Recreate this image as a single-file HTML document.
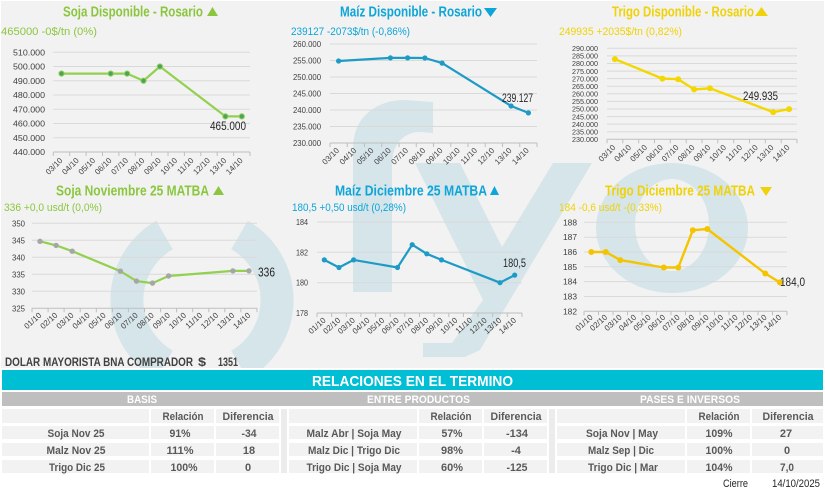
<!DOCTYPE html>
<html><head><meta charset="utf-8"><style>
html,body{margin:0;padding:0;background:#fff;}
svg{display:block;}
text{font-family:"Liberation Sans Narrow","Liberation Sans",sans-serif;}
</style></head><body>
<svg width="825" height="493" viewBox="0 0 825 493" xmlns="http://www.w3.org/2000/svg">
<defs><clipPath id="bgclip"><rect x="1" y="1" width="823" height="367"/></clipPath></defs>
<rect x="0" y="0" width="825" height="493" fill="#ffffff"/>
<rect x="1" y="1" width="823" height="367" fill="#f2f2f2"/>
<!-- watermark -->
<g clip-path="url(#bgclip)" fill="#d6e5ea">
<path d="M164.5,235 A75,75 0 0 0 164.5,365" fill="none" stroke="#d6e5ea" stroke-width="33"/>
<path d="M239.5,235 A75,75 0 0 1 239.5,365" fill="none" stroke="#d6e5ea" stroke-width="33"/>
<path d="M353,292 L353,148 C353,118 375,100 405,100 L433,102 L433,133 L420,132 C403,132 392,145 392,165 L392,292 Z"/>
<path d="M415,163 L460,163 L502,247 L553,163 L592,163 L480,350 L465,357 L423,357 L423,343 L452,343 L483,300 Z"/>
<path fill-rule="evenodd" d="M596,228 A76,65 0 1 0 748,228 A76,65 0 1 0 596,228 Z M635,225 A37,46 0 1 1 709,225 A37,46 0 1 1 635,225 Z"/>
</g>

<!-- ============ CHART 1 ============ -->
<g>
<text x="63" y="16.5" font-size="15" font-weight="bold" fill="#8cc63f" textLength="140" lengthAdjust="spacingAndGlyphs">Soja Disponible - Rosario</text>
<polygon points="207,16 218,16 212.5,7" fill="#8cc63f"/>
<text x="1" y="35" font-size="11" fill="#8cc63f" textLength="96" lengthAdjust="spacingAndGlyphs">465000 -0$/tn (0%)</text>
<g stroke="#d9d9d9" stroke-width="1">
<line x1="53.3" y1="52.25" x2="250" y2="52.25"/><line x1="53.3" y1="66.5" x2="250" y2="66.5"/><line x1="53.3" y1="80.75" x2="250" y2="80.75"/><line x1="53.3" y1="95" x2="250" y2="95"/><line x1="53.3" y1="109.25" x2="250" y2="109.25"/><line x1="53.3" y1="123.5" x2="250" y2="123.5"/><line x1="53.3" y1="137.75" x2="250" y2="137.75"/>
</g>
<line x1="53.3" y1="152" x2="250" y2="152" stroke="#bfbfbf"/>
<g stroke="#bfbfbf"><line x1="53.3" y1="152" x2="53.3" y2="156"/><line x1="69.7" y1="152" x2="69.7" y2="156"/><line x1="86.1" y1="152" x2="86.1" y2="156"/><line x1="102.5" y1="152" x2="102.5" y2="156"/><line x1="118.9" y1="152" x2="118.9" y2="156"/><line x1="135.3" y1="152" x2="135.3" y2="156"/><line x1="151.6" y1="152" x2="151.6" y2="156"/><line x1="168" y1="152" x2="168" y2="156"/><line x1="184.4" y1="152" x2="184.4" y2="156"/><line x1="200.8" y1="152" x2="200.8" y2="156"/><line x1="217.2" y1="152" x2="217.2" y2="156"/><line x1="233.6" y1="152" x2="233.6" y2="156"/><line x1="250" y1="152" x2="250" y2="156"/></g>
<g font-size="8" fill="#404040" text-anchor="end">
<text x="45" y="55.3" textLength="32" lengthAdjust="spacingAndGlyphs">510.000</text><text x="45" y="69.5" textLength="32" lengthAdjust="spacingAndGlyphs">500.000</text><text x="45" y="83.8" textLength="32" lengthAdjust="spacingAndGlyphs">490.000</text><text x="45" y="98" textLength="32" lengthAdjust="spacingAndGlyphs">480.000</text><text x="45" y="112.3" textLength="32" lengthAdjust="spacingAndGlyphs">470.000</text><text x="45" y="126.5" textLength="32" lengthAdjust="spacingAndGlyphs">460.000</text><text x="45" y="140.8" textLength="32" lengthAdjust="spacingAndGlyphs">450.000</text><text x="45" y="155" textLength="32" lengthAdjust="spacingAndGlyphs">440.000</text>
</g>
<g font-size="8" fill="#404040" text-anchor="end">
<text transform="translate(63,161) rotate(-45)">03/10</text><text transform="translate(79.4,161) rotate(-45)">04/10</text><text transform="translate(95.8,161) rotate(-45)">05/10</text><text transform="translate(112.2,161) rotate(-45)">06/10</text><text transform="translate(128.6,161) rotate(-45)">07/10</text><text transform="translate(145,161) rotate(-45)">08/10</text><text transform="translate(161.4,161) rotate(-45)">09/10</text><text transform="translate(177.8,161) rotate(-45)">10/10</text><text transform="translate(194.1,161) rotate(-45)">11/10</text><text transform="translate(210.5,161) rotate(-45)">12/10</text><text transform="translate(226.9,161) rotate(-45)">13/10</text><text transform="translate(243.3,161) rotate(-45)">14/10</text>
</g>
<polyline points="61.5,73.6 110.7,73.6 127.1,73.6 143.5,80.75 159.9,66.5 225.4,116.4 241.8,116.4" fill="none" stroke="#92d050" stroke-width="2.2" stroke-linejoin="round"/>
<g fill="#4aa35e" stroke="#92d050" stroke-width="1"><circle cx="61.5" cy="73.6" r="2.6"/><circle cx="110.7" cy="73.6" r="2.6"/><circle cx="127.1" cy="73.6" r="2.6"/><circle cx="143.5" cy="80.75" r="2.6"/><circle cx="159.9" cy="66.5" r="2.6"/><circle cx="225.4" cy="116.4" r="2.6"/><circle cx="241.8" cy="116.4" r="2.6"/></g>
<text x="210" y="130" font-size="11.5" fill="#262626" textLength="36" lengthAdjust="spacingAndGlyphs">465.000</text>
</g>

<!-- ============ CHART 2 ============ -->
<g>
<text x="340" y="16.5" font-size="15" font-weight="bold" fill="#0ea5d8" textLength="142" lengthAdjust="spacingAndGlyphs">Maíz Disponible - Rosario</text>
<polygon points="484,8 497,8 490.5,17" fill="#0ea5d8"/>
<text x="291" y="35" font-size="11" fill="#0ea5d8" textLength="119" lengthAdjust="spacingAndGlyphs">239127 -2073$/tn (-0,86%)</text>
<g stroke="#d9d9d9" stroke-width="1">
<line x1="330" y1="44" x2="537" y2="44"/><line x1="330" y1="60.5" x2="537" y2="60.5"/><line x1="330" y1="77" x2="537" y2="77"/><line x1="330" y1="93.5" x2="537" y2="93.5"/><line x1="330" y1="110" x2="537" y2="110"/><line x1="330" y1="126.5" x2="537" y2="126.5"/>
</g>
<line x1="330" y1="143" x2="537" y2="143" stroke="#bfbfbf"/>
<g stroke="#bfbfbf"><line x1="330" y1="143" x2="330" y2="147"/><line x1="347.25" y1="143" x2="347.25" y2="147"/><line x1="364.5" y1="143" x2="364.5" y2="147"/><line x1="381.75" y1="143" x2="381.75" y2="147"/><line x1="399" y1="143" x2="399" y2="147"/><line x1="416.25" y1="143" x2="416.25" y2="147"/><line x1="433.5" y1="143" x2="433.5" y2="147"/><line x1="450.75" y1="143" x2="450.75" y2="147"/><line x1="468" y1="143" x2="468" y2="147"/><line x1="485.25" y1="143" x2="485.25" y2="147"/><line x1="502.5" y1="143" x2="502.5" y2="147"/><line x1="519.75" y1="143" x2="519.75" y2="147"/><line x1="537" y1="143" x2="537" y2="147"/></g>
<g font-size="8" fill="#404040" text-anchor="end">
<text x="321" y="47" textLength="28" lengthAdjust="spacingAndGlyphs">260.000</text><text x="321" y="63.5" textLength="28" lengthAdjust="spacingAndGlyphs">255.000</text><text x="321" y="80" textLength="28" lengthAdjust="spacingAndGlyphs">250.000</text><text x="321" y="96.5" textLength="28" lengthAdjust="spacingAndGlyphs">245.000</text><text x="321" y="113" textLength="28" lengthAdjust="spacingAndGlyphs">240.000</text><text x="321" y="129.5" textLength="28" lengthAdjust="spacingAndGlyphs">235.000</text><text x="321" y="146" textLength="28" lengthAdjust="spacingAndGlyphs">230.000</text>
</g>
<g font-size="8" fill="#404040" text-anchor="end">
<text transform="translate(339.6,151) rotate(-45)">03/10</text><text transform="translate(356.9,151) rotate(-45)">04/10</text><text transform="translate(374.1,151) rotate(-45)">05/10</text><text transform="translate(391.4,151) rotate(-45)">06/10</text><text transform="translate(408.6,151) rotate(-45)">07/10</text><text transform="translate(425.9,151) rotate(-45)">08/10</text><text transform="translate(443.1,151) rotate(-45)">09/10</text><text transform="translate(460.4,151) rotate(-45)">10/10</text><text transform="translate(477.6,151) rotate(-45)">11/10</text><text transform="translate(494.9,151) rotate(-45)">12/10</text><text transform="translate(512.1,151) rotate(-45)">13/10</text><text transform="translate(529.4,151) rotate(-45)">14/10</text>
</g>
<polyline points="338.6,61 390.4,57.9 407.6,57.9 424.9,58 442.1,63.1 511.1,106 528.4,112.9" fill="none" stroke="#1d9bc6" stroke-width="2.2" stroke-linejoin="round"/>
<g fill="#1d9bc6"><circle cx="338.6" cy="61" r="2.6"/><circle cx="390.4" cy="57.9" r="2.6"/><circle cx="407.6" cy="57.9" r="2.6"/><circle cx="424.9" cy="58" r="2.6"/><circle cx="442.1" cy="63.1" r="2.6"/><circle cx="511.1" cy="106" r="2.6"/><circle cx="528.4" cy="112.9" r="2.6"/></g>
<text x="502" y="102" font-size="11.5" fill="#262626" textLength="31" lengthAdjust="spacingAndGlyphs">239.127</text>
</g>

<!-- ============ CHART 3 ============ -->
<g>
<text x="612" y="16.5" font-size="15" font-weight="bold" fill="#efd20a" textLength="142" lengthAdjust="spacingAndGlyphs">Trigo Disponible - Rosario</text>
<polygon points="755,16 768,16 761.5,7" fill="#efd20a"/>
<text x="559" y="35" font-size="11" fill="#efd20a" textLength="123" lengthAdjust="spacingAndGlyphs">249935 +2035$/tn (0,82%)</text>
<g stroke="#d9d9d9" stroke-width="1">
<line x1="607" y1="48.3" x2="797" y2="48.3"/><line x1="607" y1="55.9" x2="797" y2="55.9"/><line x1="607" y1="63.5" x2="797" y2="63.5"/><line x1="607" y1="71.1" x2="797" y2="71.1"/><line x1="607" y1="78.6" x2="797" y2="78.6"/><line x1="607" y1="86.2" x2="797" y2="86.2"/><line x1="607" y1="93.8" x2="797" y2="93.8"/><line x1="607" y1="101.4" x2="797" y2="101.4"/><line x1="607" y1="109" x2="797" y2="109"/><line x1="607" y1="116.6" x2="797" y2="116.6"/><line x1="607" y1="124.1" x2="797" y2="124.1"/><line x1="607" y1="131.7" x2="797" y2="131.7"/>
</g>
<line x1="607" y1="139.3" x2="797" y2="139.3" stroke="#bfbfbf"/>
<g stroke="#bfbfbf"><line x1="607" y1="139.3" x2="607" y2="143.3"/><line x1="622.8" y1="139.3" x2="622.8" y2="143.3"/><line x1="638.7" y1="139.3" x2="638.7" y2="143.3"/><line x1="654.5" y1="139.3" x2="654.5" y2="143.3"/><line x1="670.3" y1="139.3" x2="670.3" y2="143.3"/><line x1="686.2" y1="139.3" x2="686.2" y2="143.3"/><line x1="702" y1="139.3" x2="702" y2="143.3"/><line x1="717.8" y1="139.3" x2="717.8" y2="143.3"/><line x1="733.7" y1="139.3" x2="733.7" y2="143.3"/><line x1="749.5" y1="139.3" x2="749.5" y2="143.3"/><line x1="765.3" y1="139.3" x2="765.3" y2="143.3"/><line x1="781.2" y1="139.3" x2="781.2" y2="143.3"/><line x1="797" y1="139.3" x2="797" y2="143.3"/></g>
<g font-size="7.5" fill="#404040" text-anchor="end">
<text x="598" y="51" textLength="26" lengthAdjust="spacingAndGlyphs">290.000</text><text x="598" y="58.6" textLength="26" lengthAdjust="spacingAndGlyphs">285.000</text><text x="598" y="66.2" textLength="26" lengthAdjust="spacingAndGlyphs">280.000</text><text x="598" y="73.8" textLength="26" lengthAdjust="spacingAndGlyphs">275.000</text><text x="598" y="81.3" textLength="26" lengthAdjust="spacingAndGlyphs">270.000</text><text x="598" y="88.9" textLength="26" lengthAdjust="spacingAndGlyphs">265.000</text><text x="598" y="96.5" textLength="26" lengthAdjust="spacingAndGlyphs">260.000</text><text x="598" y="104.1" textLength="26" lengthAdjust="spacingAndGlyphs">255.000</text><text x="598" y="111.7" textLength="26" lengthAdjust="spacingAndGlyphs">250.000</text><text x="598" y="119.3" textLength="26" lengthAdjust="spacingAndGlyphs">245.000</text><text x="598" y="126.8" textLength="26" lengthAdjust="spacingAndGlyphs">240.000</text><text x="598" y="134.4" textLength="26" lengthAdjust="spacingAndGlyphs">235.000</text><text x="598" y="142" textLength="26" lengthAdjust="spacingAndGlyphs">230.000</text>
</g>
<g font-size="8" fill="#404040" text-anchor="end">
<text transform="translate(615.9,148) rotate(-45)">03/10</text><text transform="translate(631.7,148) rotate(-45)">04/10</text><text transform="translate(647.6,148) rotate(-45)">05/10</text><text transform="translate(663.4,148) rotate(-45)">06/10</text><text transform="translate(679.2,148) rotate(-45)">07/10</text><text transform="translate(695.1,148) rotate(-45)">08/10</text><text transform="translate(710.9,148) rotate(-45)">09/10</text><text transform="translate(726.7,148) rotate(-45)">10/10</text><text transform="translate(742.6,148) rotate(-45)">11/10</text><text transform="translate(758.4,148) rotate(-45)">12/10</text><text transform="translate(774.2,148) rotate(-45)">13/10</text><text transform="translate(790.1,148) rotate(-45)">14/10</text>
</g>
<polyline points="614.9,59.1 662.4,78.6 678.2,79.2 694.1,89.4 709.9,88.3 773.2,112.1 789.1,109.1" fill="none" stroke="#f3d700" stroke-width="2.4" stroke-linejoin="round"/>
<g fill="#f3d700"><circle cx="614.9" cy="59.1" r="3"/><circle cx="662.4" cy="78.6" r="3"/><circle cx="678.2" cy="79.2" r="3"/><circle cx="694.1" cy="89.4" r="3"/><circle cx="709.9" cy="88.3" r="3"/><circle cx="773.2" cy="112.1" r="3"/><circle cx="789.1" cy="109.1" r="3"/></g>
<text x="743" y="100" font-size="11.5" fill="#262626" textLength="35" lengthAdjust="spacingAndGlyphs">249.935</text>
</g>

<!-- ============ CHART 4 ============ -->
<g>
<text x="56" y="195.5" font-size="15" font-weight="bold" fill="#8cc63f" textLength="153" lengthAdjust="spacingAndGlyphs">Soja Noviembre 25 MATBA</text>
<polygon points="213,195 224,195 218.5,186" fill="#8cc63f"/>
<text x="4" y="211" font-size="11" fill="#8cc63f" textLength="98" lengthAdjust="spacingAndGlyphs">336 +0,0 usd/t (0,0%)</text>
<g stroke="#d9d9d9" stroke-width="1">
<line x1="32" y1="223.3" x2="257" y2="223.3"/><line x1="32" y1="240.3" x2="257" y2="240.3"/><line x1="32" y1="257.3" x2="257" y2="257.3"/><line x1="32" y1="274.3" x2="257" y2="274.3"/><line x1="32" y1="291.3" x2="257" y2="291.3"/>
</g>
<line x1="32" y1="308.3" x2="257" y2="308.3" stroke="#bfbfbf"/>
<g stroke="#bfbfbf"><line x1="32" y1="308.3" x2="32" y2="312.3"/><line x1="48.1" y1="308.3" x2="48.1" y2="312.3"/><line x1="64.1" y1="308.3" x2="64.1" y2="312.3"/><line x1="80.2" y1="308.3" x2="80.2" y2="312.3"/><line x1="96.3" y1="308.3" x2="96.3" y2="312.3"/><line x1="112.4" y1="308.3" x2="112.4" y2="312.3"/><line x1="128.4" y1="308.3" x2="128.4" y2="312.3"/><line x1="144.5" y1="308.3" x2="144.5" y2="312.3"/><line x1="160.6" y1="308.3" x2="160.6" y2="312.3"/><line x1="176.6" y1="308.3" x2="176.6" y2="312.3"/><line x1="192.7" y1="308.3" x2="192.7" y2="312.3"/><line x1="208.8" y1="308.3" x2="208.8" y2="312.3"/><line x1="224.8" y1="308.3" x2="224.8" y2="312.3"/><line x1="240.9" y1="308.3" x2="240.9" y2="312.3"/><line x1="257" y1="308.3" x2="257" y2="312.3"/></g>
<g font-size="8" fill="#404040" text-anchor="end">
<text x="25" y="226.3" textLength="13" lengthAdjust="spacingAndGlyphs">350</text><text x="25" y="243.3" textLength="13" lengthAdjust="spacingAndGlyphs">345</text><text x="25" y="260.3" textLength="13" lengthAdjust="spacingAndGlyphs">340</text><text x="25" y="277.3" textLength="13" lengthAdjust="spacingAndGlyphs">335</text><text x="25" y="294.3" textLength="13" lengthAdjust="spacingAndGlyphs">330</text><text x="25" y="311.3" textLength="13" lengthAdjust="spacingAndGlyphs">325</text>
</g>
<g font-size="8" fill="#404040" text-anchor="end">
<text transform="translate(42,316) rotate(-42)">01/10</text><text transform="translate(58.1,316) rotate(-42)">02/10</text><text transform="translate(74.2,316) rotate(-42)">03/10</text><text transform="translate(90.3,316) rotate(-42)">04/10</text><text transform="translate(106.3,316) rotate(-42)">05/10</text><text transform="translate(122.4,316) rotate(-42)">06/10</text><text transform="translate(138.5,316) rotate(-42)">07/10</text><text transform="translate(154.5,316) rotate(-42)">08/10</text><text transform="translate(170.6,316) rotate(-42)">09/10</text><text transform="translate(186.7,316) rotate(-42)">10/10</text><text transform="translate(202.8,316) rotate(-42)">11/10</text><text transform="translate(218.8,316) rotate(-42)">12/10</text><text transform="translate(234.9,316) rotate(-42)">13/10</text><text transform="translate(251,316) rotate(-42)">14/10</text>
</g>
<polyline points="40,241.3 56.1,245.4 72.2,251.2 120.4,271.2 136.5,281.1 152.5,283.1 168.6,276 232.9,270.9 249,270.9" fill="none" stroke="#92d050" stroke-width="2.2" stroke-linejoin="round"/>
<g fill="#a6a6a6"><circle cx="40" cy="241.3" r="2.7"/><circle cx="56.1" cy="245.4" r="2.7"/><circle cx="72.2" cy="251.2" r="2.7"/><circle cx="120.4" cy="271.2" r="2.7"/><circle cx="136.5" cy="281.1" r="2.7"/><circle cx="152.5" cy="283.1" r="2.7"/><circle cx="168.6" cy="276" r="2.7"/><circle cx="232.9" cy="270.9" r="2.7"/><circle cx="249" cy="270.9" r="2.7"/></g>
<text x="258" y="276.5" font-size="13" fill="#262626" textLength="17" lengthAdjust="spacingAndGlyphs">336</text>
</g>

<!-- ============ CHART 5 ============ -->
<g>
<text x="335" y="195.5" font-size="15" font-weight="bold" fill="#0ea5d8" textLength="152" lengthAdjust="spacingAndGlyphs">Maíz Diciembre 25 MATBA</text>
<polygon points="490,195 499,195 494.5,186" fill="#0ea5d8"/>
<text x="292" y="211" font-size="11" fill="#0ea5d8" textLength="114" lengthAdjust="spacingAndGlyphs">180,5 +0,50 usd/t (0,28%)</text>
<g stroke="#d9d9d9" stroke-width="1">
<line x1="317" y1="222" x2="522" y2="222"/><line x1="317" y1="252.3" x2="522" y2="252.3"/><line x1="317" y1="282.7" x2="522" y2="282.7"/>
</g>
<line x1="317" y1="313" x2="522" y2="313" stroke="#bfbfbf"/>
<g stroke="#bfbfbf"><line x1="317" y1="313" x2="317" y2="317"/><line x1="331.6" y1="313" x2="331.6" y2="317"/><line x1="346.3" y1="313" x2="346.3" y2="317"/><line x1="360.9" y1="313" x2="360.9" y2="317"/><line x1="375.6" y1="313" x2="375.6" y2="317"/><line x1="390.2" y1="313" x2="390.2" y2="317"/><line x1="404.8" y1="313" x2="404.8" y2="317"/><line x1="419.5" y1="313" x2="419.5" y2="317"/><line x1="434.1" y1="313" x2="434.1" y2="317"/><line x1="448.8" y1="313" x2="448.8" y2="317"/><line x1="463.4" y1="313" x2="463.4" y2="317"/><line x1="478" y1="313" x2="478" y2="317"/><line x1="492.7" y1="313" x2="492.7" y2="317"/><line x1="507.3" y1="313" x2="507.3" y2="317"/><line x1="522" y1="313" x2="522" y2="317"/></g>
<g font-size="8" fill="#404040" text-anchor="end">
<text x="308" y="225" textLength="12" lengthAdjust="spacingAndGlyphs">184</text><text x="308" y="255.3" textLength="12" lengthAdjust="spacingAndGlyphs">182</text><text x="308" y="285.7" textLength="12" lengthAdjust="spacingAndGlyphs">180</text><text x="308" y="316" textLength="12" lengthAdjust="spacingAndGlyphs">178</text>
</g>
<g font-size="8" fill="#404040" text-anchor="end">
<text transform="translate(326.3,321) rotate(-42)">01/10</text><text transform="translate(341,321) rotate(-42)">02/10</text><text transform="translate(355.6,321) rotate(-42)">03/10</text><text transform="translate(370.2,321) rotate(-42)">04/10</text><text transform="translate(384.9,321) rotate(-42)">05/10</text><text transform="translate(399.5,321) rotate(-42)">06/10</text><text transform="translate(414.2,321) rotate(-42)">07/10</text><text transform="translate(428.8,321) rotate(-42)">08/10</text><text transform="translate(443.5,321) rotate(-42)">09/10</text><text transform="translate(458.1,321) rotate(-42)">10/10</text><text transform="translate(472.8,321) rotate(-42)">11/10</text><text transform="translate(487.4,321) rotate(-42)">12/10</text><text transform="translate(502,321) rotate(-42)">13/10</text><text transform="translate(516.7,321) rotate(-42)">14/10</text>
</g>
<polyline points="324.3,259.9 339,267.5 353.6,259.9 397.5,267.5 412.2,244.7 426.8,253.8 441.5,259.9 500,282.7 514.7,275.1" fill="none" stroke="#1d9bc6" stroke-width="2.2" stroke-linejoin="round"/>
<g fill="#1d9bc6"><circle cx="324.3" cy="259.9" r="2.6"/><circle cx="339" cy="267.5" r="2.6"/><circle cx="353.6" cy="259.9" r="2.6"/><circle cx="397.5" cy="267.5" r="2.6"/><circle cx="412.2" cy="244.7" r="2.6"/><circle cx="426.8" cy="253.8" r="2.6"/><circle cx="441.5" cy="259.9" r="2.6"/><circle cx="500" cy="282.7" r="2.6"/><circle cx="514.7" cy="275.1" r="2.6"/></g>
<text x="503" y="267" font-size="11.5" fill="#262626" textLength="23" lengthAdjust="spacingAndGlyphs">180,5</text>
</g>

<!-- ============ CHART 6 ============ -->
<g>
<text x="605" y="195.5" font-size="15" font-weight="bold" fill="#efd20a" textLength="150" lengthAdjust="spacingAndGlyphs">Trigo Diciembre 25 MATBA</text>
<polygon points="760,187 772,187 766,196" fill="#efd20a"/>
<text x="559" y="211" font-size="11" fill="#efd20a" textLength="103" lengthAdjust="spacingAndGlyphs">184 -0,6 usd/t -(0,33%)</text>
<g stroke="#d9d9d9" stroke-width="1">
<line x1="584" y1="222.3" x2="787" y2="222.3"/><line x1="584" y1="237.2" x2="787" y2="237.2"/><line x1="584" y1="252" x2="787" y2="252"/><line x1="584" y1="266.8" x2="787" y2="266.8"/><line x1="584" y1="281.6" x2="787" y2="281.6"/><line x1="584" y1="296.5" x2="787" y2="296.5"/>
</g>
<line x1="584" y1="311.3" x2="787" y2="311.3" stroke="#bfbfbf"/>
<g stroke="#bfbfbf"><line x1="584" y1="311.3" x2="584" y2="315.3"/><line x1="598.5" y1="311.3" x2="598.5" y2="315.3"/><line x1="613" y1="311.3" x2="613" y2="315.3"/><line x1="627.5" y1="311.3" x2="627.5" y2="315.3"/><line x1="642" y1="311.3" x2="642" y2="315.3"/><line x1="656.5" y1="311.3" x2="656.5" y2="315.3"/><line x1="671" y1="311.3" x2="671" y2="315.3"/><line x1="685.5" y1="311.3" x2="685.5" y2="315.3"/><line x1="700" y1="311.3" x2="700" y2="315.3"/><line x1="714.5" y1="311.3" x2="714.5" y2="315.3"/><line x1="729" y1="311.3" x2="729" y2="315.3"/><line x1="743.5" y1="311.3" x2="743.5" y2="315.3"/><line x1="758" y1="311.3" x2="758" y2="315.3"/><line x1="772.5" y1="311.3" x2="772.5" y2="315.3"/><line x1="787" y1="311.3" x2="787" y2="315.3"/></g>
<g font-size="8" fill="#404040" text-anchor="end">
<text x="577" y="225.3" textLength="14" lengthAdjust="spacingAndGlyphs">188</text><text x="577" y="240.2" textLength="14" lengthAdjust="spacingAndGlyphs">187</text><text x="577" y="255" textLength="14" lengthAdjust="spacingAndGlyphs">186</text><text x="577" y="269.8" textLength="14" lengthAdjust="spacingAndGlyphs">185</text><text x="577" y="284.6" textLength="14" lengthAdjust="spacingAndGlyphs">184</text><text x="577" y="299.5" textLength="14" lengthAdjust="spacingAndGlyphs">183</text><text x="577" y="314.3" textLength="14" lengthAdjust="spacingAndGlyphs">182</text>
</g>
<g font-size="8" fill="#404040" text-anchor="end">
<text transform="translate(593.3,318) rotate(-42)">01/10</text><text transform="translate(607.8,318) rotate(-42)">02/10</text><text transform="translate(622.3,318) rotate(-42)">03/10</text><text transform="translate(636.8,318) rotate(-42)">04/10</text><text transform="translate(651.3,318) rotate(-42)">05/10</text><text transform="translate(665.8,318) rotate(-42)">06/10</text><text transform="translate(680.3,318) rotate(-42)">07/10</text><text transform="translate(694.8,318) rotate(-42)">08/10</text><text transform="translate(709.3,318) rotate(-42)">09/10</text><text transform="translate(723.8,318) rotate(-42)">10/10</text><text transform="translate(738.3,318) rotate(-42)">11/10</text><text transform="translate(752.8,318) rotate(-42)">12/10</text><text transform="translate(767.3,318) rotate(-42)">13/10</text><text transform="translate(781.8,318) rotate(-42)">14/10</text>
</g>
<polyline points="591.3,252 605.8,252 620.3,260.1 663.8,267.5 678.3,267.5 692.8,230.2 707.3,229 765.3,273.5 779.8,282.4" fill="none" stroke="#f5c400" stroke-width="2.4" stroke-linejoin="round"/>
<g fill="#f5c400"><circle cx="591.3" cy="252" r="3"/><circle cx="605.8" cy="252" r="3"/><circle cx="620.3" cy="260.1" r="3"/><circle cx="663.8" cy="267.5" r="3"/><circle cx="678.3" cy="267.5" r="3"/><circle cx="692.8" cy="230.2" r="3"/><circle cx="707.3" cy="229" r="3"/><circle cx="765.3" cy="273.5" r="3"/><circle cx="779.8" cy="282.4" r="3"/></g>
<text x="780" y="286" font-size="11.5" fill="#262626" textLength="25" lengthAdjust="spacingAndGlyphs">184,0</text>
</g>

<!-- DOLAR line -->
<text x="5" y="366" font-size="12" font-weight="bold" fill="#404040" textLength="188" lengthAdjust="spacingAndGlyphs">DOLAR MAYORISTA BNA COMPRADOR</text>
<text x="198" y="366" font-size="12" font-weight="bold" fill="#404040" textLength="8" lengthAdjust="spacingAndGlyphs">$</text>
<text x="218" y="366" font-size="12" font-weight="bold" fill="#404040" textLength="20" lengthAdjust="spacingAndGlyphs">1351</text>

<!-- Teal bar -->
<rect x="2" y="370" width="821" height="20" fill="#00bfd5"/>
<text x="312" y="386" font-size="15" font-weight="bold" fill="#ffffff" textLength="201" lengthAdjust="spacingAndGlyphs">RELACIONES EN EL TERMINO</text>

<!-- Gray bar -->
<rect x="2" y="392" width="821" height="14" fill="#bfbfbf"/>
<g font-size="11" font-weight="bold" fill="#ffffff">
<text x="127" y="403" textLength="30" lengthAdjust="spacingAndGlyphs">BASIS</text>
<text x="367" y="403" textLength="103" lengthAdjust="spacingAndGlyphs">ENTRE PRODUCTOS</text>
<text x="640" y="403" textLength="100" lengthAdjust="spacingAndGlyphs">PASES E INVERSOS</text>
</g>

<!-- Table cells -->
<g fill="#f2f2f2">
<rect x="2" y="409" width="147" height="14"/><rect x="151" y="409" width="63" height="14"/><rect x="216" y="409" width="63" height="14"/>
<rect x="2" y="426" width="147" height="13"/><rect x="151" y="426" width="63" height="13"/><rect x="216" y="426" width="63" height="13"/>
<rect x="2" y="443" width="147" height="13"/><rect x="151" y="443" width="63" height="13"/><rect x="216" y="443" width="63" height="13"/>
<rect x="2" y="460" width="147" height="13"/><rect x="151" y="460" width="63" height="13"/><rect x="216" y="460" width="63" height="13"/>

<rect x="289" y="409" width="128" height="14"/><rect x="419" y="409" width="63" height="14"/><rect x="484" y="409" width="63" height="14"/>
<rect x="289" y="426" width="128" height="13"/><rect x="419" y="426" width="63" height="13"/><rect x="484" y="426" width="63" height="13"/>
<rect x="289" y="443" width="128" height="13"/><rect x="419" y="443" width="63" height="13"/><rect x="484" y="443" width="63" height="13"/>
<rect x="289" y="460" width="128" height="13"/><rect x="419" y="460" width="63" height="13"/><rect x="484" y="460" width="63" height="13"/>

<rect x="557" y="409" width="128" height="14"/><rect x="687" y="409" width="63" height="14"/><rect x="752" y="409" width="71" height="14"/>
<rect x="557" y="426" width="128" height="13"/><rect x="687" y="426" width="63" height="13"/><rect x="752" y="426" width="71" height="13"/>
<rect x="557" y="443" width="128" height="13"/><rect x="687" y="443" width="63" height="13"/><rect x="752" y="443" width="71" height="13"/>
<rect x="557" y="460" width="128" height="13"/><rect x="687" y="460" width="63" height="13"/><rect x="752" y="460" width="71" height="13"/>
</g>
<rect x="281" y="409" width="6" height="64" fill="#ececec"/>
<rect x="549" y="409" width="6" height="64" fill="#ececec"/>

<g font-size="11" font-weight="bold" fill="#595959" text-anchor="middle">
<text x="183" y="420" textLength="41" lengthAdjust="spacingAndGlyphs">Relación</text>
<text x="248" y="420" textLength="51" lengthAdjust="spacingAndGlyphs">Diferencia</text>
<text x="451" y="420" textLength="41" lengthAdjust="spacingAndGlyphs">Relación</text>
<text x="516" y="420" textLength="51" lengthAdjust="spacingAndGlyphs">Diferencia</text>
<text x="719" y="420" textLength="41" lengthAdjust="spacingAndGlyphs">Relación</text>
<text x="788" y="420" textLength="51" lengthAdjust="spacingAndGlyphs">Diferencia</text>

<text x="76" y="437" textLength="57" lengthAdjust="spacingAndGlyphs">Soja Nov 25</text>
<text x="76" y="454" textLength="59" lengthAdjust="spacingAndGlyphs">Malz Nov 25</text>
<text x="77" y="471" textLength="56" lengthAdjust="spacingAndGlyphs">Trigo Dic 25</text>
<text x="180" y="437" textLength="21" lengthAdjust="spacingAndGlyphs">91%</text>
<text x="180" y="454" textLength="27" lengthAdjust="spacingAndGlyphs">111%</text>
<text x="184" y="471" textLength="27" lengthAdjust="spacingAndGlyphs">100%</text>
<text x="249" y="437" textLength="15" lengthAdjust="spacingAndGlyphs">-34</text>
<text x="249" y="454">18</text>
<text x="248" y="471">0</text>

<text x="354" y="437" textLength="95" lengthAdjust="spacingAndGlyphs">Malz Abr | Soja May</text>
<text x="354" y="454" textLength="92" lengthAdjust="spacingAndGlyphs">Malz Dic | Trigo Dic</text>
<text x="354" y="471" textLength="95" lengthAdjust="spacingAndGlyphs">Trigo Dic | Soja May</text>
<text x="452" y="437" textLength="21" lengthAdjust="spacingAndGlyphs">57%</text>
<text x="452" y="454" textLength="22" lengthAdjust="spacingAndGlyphs">98%</text>
<text x="452" y="471" textLength="22" lengthAdjust="spacingAndGlyphs">60%</text>
<text x="517" y="437" textLength="22" lengthAdjust="spacingAndGlyphs">-134</text>
<text x="516" y="454">-4</text>
<text x="517" y="471" textLength="21" lengthAdjust="spacingAndGlyphs">-125</text>

<text x="622" y="437" textLength="72" lengthAdjust="spacingAndGlyphs">Soja Nov | May</text>
<text x="621" y="454" textLength="66" lengthAdjust="spacingAndGlyphs">Malz Sep | Dic</text>
<text x="623" y="471" textLength="70" lengthAdjust="spacingAndGlyphs">Trigo Dic | Mar</text>
<text x="719" y="437" textLength="27" lengthAdjust="spacingAndGlyphs">109%</text>
<text x="719" y="454" textLength="27" lengthAdjust="spacingAndGlyphs">100%</text>
<text x="719" y="471" textLength="27" lengthAdjust="spacingAndGlyphs">104%</text>
<text x="786" y="437">27</text>
<text x="787" y="454">0</text>
<text x="787" y="471" textLength="14" lengthAdjust="spacingAndGlyphs">7,0</text>
</g>

<text x="723" y="487" font-size="11" fill="#262626" textLength="25" lengthAdjust="spacingAndGlyphs">Cierre</text>
<text x="772" y="487" font-size="11" fill="#262626" textLength="48" lengthAdjust="spacingAndGlyphs">14/10/2025</text>
</svg>
</body></html>
